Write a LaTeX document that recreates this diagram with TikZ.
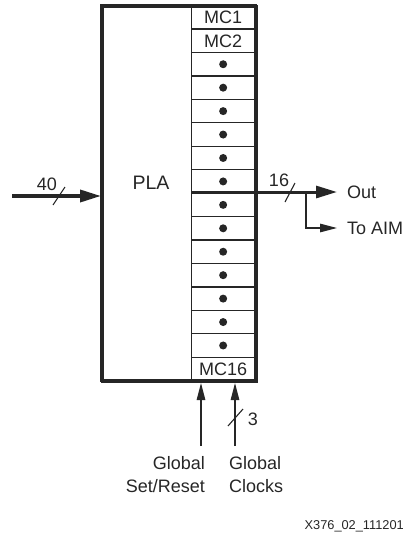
\documentclass[tikz,border=0pt]{standalone}
\usepackage{fontspec}
\setmainfont{Liberation Sans}
\usetikzlibrary{arrows.meta}
\begin{document}
\begin{tikzpicture}[x=1pt,y=-1pt,
  lbl/.style={font=\fontsize{18}{20}\selectfont, inner sep=0pt, text=black!85},
  small/.style={font=\fontsize{12.8}{15}\selectfont, inner sep=0pt, text=black!85},
  thin/.style={line width=1.3pt, draw=black!85},
  bus/.style={line width=3.5pt, draw=black!85},
  bigtip/.style={-{Triangle[length=21pt,width=12pt]}},
  smalltip/.style={-{Triangle[length=17pt,width=8.5pt]}},
  slashmark/.style={line width=1.1pt, draw=black!85},
  dotc/.style={circle, fill=black!85, inner sep=0pt, minimum size=8pt}
]
\useasboundingbox (0,0) rectangle (406,538);
% outer box
\node[draw=black!85, line width=3pt, minimum width=154pt, minimum height=375pt, inner sep=0pt, anchor=north west] (box) at (101,5) {};
\node[lbl, font=\fontsize{19.5}{22}\selectfont] (pla) at (151,183) {PLA};
% MC cells
\foreach \i in {1,...,16} {
  \pgfmathsetmacro{\yt}{5+(\i-1)*23.4375}
  \node[draw=black!85, line width=1.3pt, minimum width=63pt, minimum height=23.4375pt, inner sep=0pt, anchor=north west] (mc\i) at (191,\yt) {};
}
\node[lbl] at (mc1) {MC1};
\node[lbl] at (mc2) {MC2};
\node[lbl] at (mc16) {MC16};
\foreach \i in {3,...,15} { \node[dotc] at (mc\i) {}; }
\draw[line width=3pt, draw=black!85] (101,5) rectangle (255,380);
% input
\coordinate (inS) at (12,196);
\draw[bus, bigtip] (inS) -- (box.west |- inS);
\draw[slashmark] (53,205) -- (65,187);
\node[lbl] (n40) at (47,184) {40};
% output
\coordinate (outS) at (191,192);
\coordinate (outE) at (337,192);
\coordinate (br) at (306,192);
\coordinate (aimE) at (337,228);
\draw[line width=3pt, draw=black!85, bigtip] (outS) -- (outE);
\draw[slashmark] (285,202) -- (295,183);
\node[lbl] (n16) at (279,180) {16};
\draw[thin, smalltip] (br) |- (aimE);
\node[lbl, anchor=west] (out) at (347,192) {Out};
\node[lbl, anchor=west] (aim) at (347,228) {To AIM};
% bottom inputs
\coordinate (gsrS) at (201,446);
\coordinate (gckS) at (235,446);
\draw[thin, smalltip] (gsrS) -- (gsrS |- box.south);
\draw[thin, smalltip] (gckS) -- (gckS |- box.south);
\draw[slashmark] (228,426) -- (243,409);
\node[lbl] (n3) at (253,419) {3};
\node[lbl, align=right, anchor=north east, font=\fontsize{18}{23.5}\selectfont] (gsr) at (205,456) {Global\\Set/Reset};
\node[lbl, align=left, anchor=north west, font=\fontsize{18}{23.5}\selectfont] (gck) at (229,456) {Global\\Clocks};
\node[small, anchor=east] (id) at (404,526) {X376\_02\_111201};
\end{tikzpicture}
\end{document}
